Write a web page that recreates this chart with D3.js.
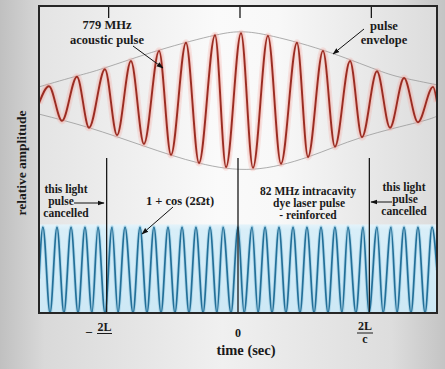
<!DOCTYPE html>
<html><head><meta charset="utf-8">
<script src="https://cdn.jsdelivr.net/npm/d3@7"></script>
<style>html,body{margin:0;padding:0;background:#fff;}svg{display:block;}</style>
</head><body>
<svg id="c" width="445" height="369"></svg>
<script>
// time in units of 2L/c ; 0 = reference pulse
const tickTimes = [-1, 0, 1];
// red acoustic pulse: extremes (time, relative amplitude)
const redTimes  = [-1.515,-1.439,-1.340,-1.226,-1.134,-1.013,-0.921,-0.815,-0.716,-0.601,-0.510,-0.396,-0.297,-0.175,-0.091,0.023,0.114,0.228,0.327,0.449,0.533,0.647,0.738,0.853,0.944,1.058,1.157,1.264,1.370,1.485,1.515];
const redValues = [-0.04,0.21,-0.30,0.35,-0.40,0.46,-0.51,0.58,-0.64,0.73,-0.80,0.85,-0.92,0.96,-0.98,0.99,-0.99,0.95,-0.93,0.85,-0.83,0.73,-0.68,0.58,-0.54,0.43,-0.40,0.33,-0.32,0.20,-0.02];
// pulse envelope
const envUpperTimes  = [-1.515,-1.226,-1.013,-0.601,-0.175,0.023,0.228,0.647,1.058,1.264,1.515];
const envUpperValues = [0.20,0.36,0.48,0.74,0.96,1.01,0.96,0.74,0.45,0.33,0.23];
const envLowerTimes  = [-1.515,-1.134,-0.716,-0.297,0.114,0.533,0.944,1.370,1.515];
const envLowerValues = [-0.20,-0.40,-0.67,-0.92,-1.01,-0.83,-0.54,-0.32,-0.23];
// blue 1 + cos(2Ωt): maxima (value 2) and minima (value 0)
const bluePeakTimes = [-1.485,-1.378,-1.271,-1.165,-1.066,-0.959,-0.860,-0.746,-0.640,-0.533,-0.426,-0.320,-0.213,-0.114,0.000,0.107,0.206,0.312,0.419,0.525,0.632,0.738,0.837,0.952,1.058,1.165,1.264,1.370,1.477];
const blueTroughTimes = [-1.431,-1.325,-1.218,-1.112,-1.013,-0.914,-0.799,-0.693,-0.586,-0.480,-0.373,-0.266,-0.160,-0.053,0.046,0.152,0.259,0.365,0.472,0.579,0.685,0.792,0.898,0.997,1.104,1.210,1.317,1.424];
const blueEnds = [[-1.515, 0.8], [1.515, 1.0]];

const svg = d3.select("#c");
const W = 445, H = 369;
const x = d3.scaleLinear().domain([-1.515, 1.515]).range([39, 437]);
const yRed = d3.scaleLinear().domain([-1, 1]).range([168.5, 32.5]);
const yBlue = d3.scaleLinear().domain([0, 2]).range([313, 227]);
const pTop = 6, pBottom = 313;

const defs = svg.append("defs");
const bg = defs.append("linearGradient").attr("id","bg").attr("x1","0").attr("x2","1").attr("y1","0").attr("y2","0");
[[0,"#c0c0c0"],[0.1,"#d9d9d9"],[0.5,"#f0f0f0"],[0.88,"#dddddd"],[1,"#c4c4c4"]].forEach(s=>bg.append("stop").attr("offset",s[0]).attr("stop-color",s[1]));
const pg = defs.append("linearGradient").attr("id","pg").attr("x1","0").attr("x2","1").attr("y1","0").attr("y2","0");
[[0,"#e4e4e4"],[0.45,"#fafafa"],[0.6,"#f8f8f8"],[1,"#dcdcdc"]].forEach(s=>pg.append("stop").attr("offset",s[0]).attr("stop-color",s[1]));
const bl = defs.append("linearGradient").attr("id","bl").attr("x1","0").attr("x2","0").attr("y1","0").attr("y2","1");
[[0,"#e4f3fa"],[0.06,"#d8eef8"],[1,"#cde8f5"]].forEach(s=>bl.append("stop").attr("offset",s[0]).attr("stop-color",s[1]));
defs.append("clipPath").attr("id","clip").append("rect")
  .attr("x", x(-1.515)).attr("y", pTop).attr("width", x(1.515)-x(-1.515)).attr("height", pBottom-pTop);
const mk = defs.append("marker").attr("id","arr").attr("viewBox","0 0 10 10").attr("refX",9).attr("refY",5)
  .attr("markerWidth",7).attr("markerHeight",7).attr("orient","auto-start-reverse").attr("markerUnits","userSpaceOnUse");
mk.append("path").attr("d","M0,1.5 L10,5 L0,8.5 Z").attr("fill","#111");

svg.append("rect").attr("width",W).attr("height",H).attr("fill","url(#bg)");
svg.append("rect").attr("x",x(-1.515)).attr("y",pTop).attr("width",x(1.515)-x(-1.515)).attr("height",pBottom-pTop).attr("fill","url(#pg)");

const plot = svg.append("g").attr("clip-path","url(#clip)");
// blue band
plot.append("rect").attr("x",x(-1.515)).attr("y",yBlue(2.06)).attr("width",x(1.515)-x(-1.515))
  .attr("height",yBlue(0)-yBlue(2.06)).attr("fill","url(#bl)");

// envelopes
const envLine = d3.line().x(d=>x(d[0])).y(d=>yRed(d[1])).curve(d3.curveNatural);
[[envUpperTimes,envUpperValues],[envLowerTimes,envLowerValues]].forEach(([t,v])=>{
  plot.append("path").attr("d", envLine(d3.zip(t,v))).attr("fill","none").attr("stroke","#999").attr("stroke-width",0.8);
});

// red pulse
const redData = d3.zip(redTimes, redValues);
const redLine = d3.line().x(d=>x(d[0])).y(d=>yRed(d[1])).curve(d3.curveMonotoneX);
plot.append("path").attr("d", redLine(redData)).attr("fill","none").attr("stroke","#f4a098").attr("stroke-opacity",0.25).attr("stroke-width",7);
plot.append("path").attr("d", redLine(redData)).attr("fill","none").attr("stroke","#f0a49c").attr("stroke-opacity",0.4).attr("stroke-width",3.8);
plot.append("path").attr("d", redLine(redData)).attr("fill","none").attr("stroke","#9a2c22").attr("stroke-width",1.9);

// blue wave
const blueData = bluePeakTimes.map(t=>[t,2]).concat(blueTroughTimes.map(t=>[t,0]), blueEnds).sort((a,b)=>a[0]-b[0]);
const blueLine = d3.line().x(d=>x(d[0])).y(d=>yBlue(d[1])).curve(d3.curveMonotoneX);
plot.append("path").attr("d", blueLine(blueData)).attr("fill","none").attr("stroke","#6fb6d8").attr("stroke-opacity",0.35).attr("stroke-width",3.5);
plot.append("path").attr("d", blueLine(blueData)).attr("fill","none").attr("stroke","#236f98").attr("stroke-width",1.7);

// vertical markers
svg.selectAll("line.vm").data(tickTimes).join("line").attr("class","vm")
  .attr("x1",d=>x(d)).attr("x2",d=>x(d)).attr("y1",158).attr("y2",pBottom).attr("stroke","#1a1a1a").attr("stroke-width",1.3);
svg.selectAll("line.tt").data(tickTimes).join("line").attr("class","tt")
  .attr("x1",d=>x(d)+2).attr("x2",d=>x(d)+2).attr("y1",pTop).attr("y2",18).attr("stroke","#1a1a1a").attr("stroke-width",1.3);

// frame
svg.append("rect").attr("x",x(-1.515)).attr("y",pTop).attr("width",x(1.515)-x(-1.515)).attr("height",pBottom-pTop)
  .attr("fill","none").attr("stroke","#262626").attr("stroke-width",2);

// text
const F = "'Liberation Serif','Times New Roman',serif";
function txt(str, tx, ty, size, anchor){
  return svg.append("text").attr("x",tx).attr("y",ty).attr("text-anchor",anchor||"middle")
    .attr("font-family",F).attr("font-weight","bold").attr("font-size",size).attr("fill","#1a1a1a").text(str);
}
txt("779 MHz",107,29,12.5);
txt("acoustic pulse",107,44,12.5);
txt("pulse",384,30,12.5);
txt("envelope",384,44,12.5);
txt("this light",66,193,11.5);
txt("pulse",61,205,11.5);
txt("cancelled",66,217,11.5);
txt("1 + cos (2\u03A9t)",180,205,12.5);
txt("82 MHz intracavity",308,195,11.5);
txt("dye laser pulse",309,207,11.5);
txt("- reinforced",308,219,11.5);
txt("this light",404,191,11.5);
txt("pulse",405,203,11.5);
txt("cancelled",404,215,11.5);

// x labels
txt("0", x(0), 337, 12);
txt("_", 89, 331, 12);
txt("2L", 104.5, 331, 12);
svg.append("line").attr("x1",97).attr("x2",112).attr("y1",333.5).attr("y2",333.5).attr("stroke","#1a1a1a").attr("stroke-width",1);
txt("2L", 365, 330, 12);
svg.append("line").attr("x1",357).attr("x2",373).attr("y1",333).attr("y2",333).attr("stroke","#1a1a1a").attr("stroke-width",1);
txt("c", 365, 343, 12);
txt("time (sec)", 246, 355, 14.5);
svg.append("text").attr("transform","translate(26,163) rotate(-90)").attr("text-anchor","middle")
  .attr("font-family",F).attr("font-weight","bold").attr("font-size",13.5).attr("fill","#1a1a1a").text("relative amplitude");

// arrows
function arrow(x1,y1,x2,y2){
  svg.append("line").attr("x1",x1).attr("y1",y1).attr("x2",x2).attr("y2",y2)
    .attr("stroke","#111").attr("stroke-width",1).attr("marker-end","url(#arr)");
}
arrow(133,46,163,68);
arrow(364,29,333,54);
arrow(74,203,104,203);
arrow(173,207,142,234);
arrow(392,202,371,202);
</script>
</body></html>
